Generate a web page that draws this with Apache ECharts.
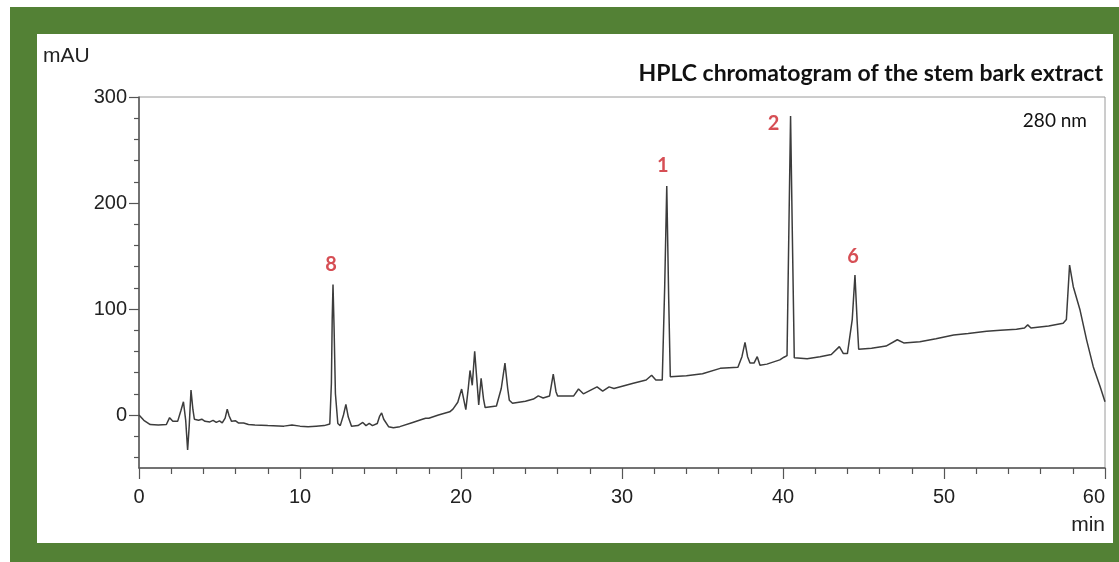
<!DOCTYPE html>
<html>
<head>
<meta charset="utf-8">
<script src="https://cdn.jsdelivr.net/npm/echarts@6/dist/echarts.min.js"></script>
<style>
  html, body { margin: 0; padding: 0; background: #ffffff; }
  #frame { position: absolute; left: 10px; top: 7px; width: 1109px; height: 555px; background: #538135; }
  #inner { position: absolute; left: 37px; top: 34px; width: 1076px; height: 509px; background: #ffffff; }
  #chart { position: absolute; left: 0; top: 0; width: 1119px; height: 562px; }
</style>
</head>
<body>
<div id="frame"></div>
<div id="inner"></div>
<div id="chart"></div>
<script>
// retention time (min) and absorbance (mAU)
const time = [
  0, 0.3, 0.7, 1.2, 1.7, 1.9, 2.1, 2.4, 2.6, 2.76, 2.9, 3.02, 3.12, 3.23, 3.35, 3.44,
  3.7, 3.9, 4.1, 4.2, 4.4, 4.6, 4.8, 5.0, 5.17, 5.35, 5.48, 5.6, 5.75, 6.0, 6.17, 6.5,
  6.8, 7.2, 8.0, 9.0, 9.5, 10.0, 10.5, 11.0, 11.5, 11.85, 11.95, 12.0, 12.05, 12.12, 12.2, 12.35,
  12.5, 12.7, 12.85, 13.0, 13.2, 13.6, 13.9, 14.1, 14.3, 14.5, 14.8, 14.95, 15.07, 15.2, 15.5, 15.8,
  16.2, 17.0, 17.6, 17.8, 18.0, 18.6, 19.3, 19.5, 19.8, 20.04, 20.3, 20.45, 20.56, 20.7, 20.85, 21.0,
  21.1, 21.25, 21.4, 21.5, 22.2, 22.5, 22.73, 22.9, 23.0, 23.2, 24.0, 24.5, 24.8, 25.1, 25.5, 25.73,
  25.9, 26.0, 27.0, 27.3, 27.6, 28.45, 28.8, 29.2, 29.5, 30.7, 31.5, 31.84, 32.1, 32.5, 32.65, 32.78,
  32.9, 33.0, 34.0, 35.0, 36.1, 37.2, 37.45, 37.64, 37.8, 37.95, 38.2, 38.4, 38.57, 39.0, 39.8, 40.06,
  40.25, 40.37, 40.47, 40.57, 40.7, 41.5, 42.3, 43.0, 43.5, 43.75, 44.0, 44.3, 44.47, 44.6, 44.7, 45.5,
  46.4, 47.1, 47.5, 48.5, 49.5, 50.6, 51.5, 52.65, 53.5, 54.5, 55.0, 55.2, 55.4, 56.5, 57.4, 57.6,
  57.8, 58.03, 58.45, 58.86, 59.27, 59.7, 60.0
]
const absorbance = [
  0, -5, -9, -9.5, -9, -2.5, -6, -6, 4, 12.5, -5, -33, -10, 23.5, 5, -4,
  -5, -4, -6, -4.5, -6.5, -5, -7, -5.5, -7.5, -3, 5.5, -1, -6, -5.5, -7.5, -7.5,
  -9, -9.5, -10, -10.5, -9.5, -10.5, -11, -10.5, -10, -8.5, 30, 90, 123, 80, 20, -8,
  -10, 0, 10, -2, -10.5, -10, -7, -10, -8, -10, -8, -1, 2, -4, -11, -12,
  -11, -7, -4, -3, -3, 0, 3, 5.5, 12, 24.5, 5, 25, 42, 28, 60, 30,
  9.5, 34.5, 15, 7, 8.5, 25, 49, 25, 14, 11, 13, 15, 18, 16, 18, 38.5,
  22, 18, 18, 24.5, 20, 26.5, 22.5, 26.5, 25, 30, 33, 37.5, 33, 33, 120, 216,
  110, 36, 37, 39, 44, 45, 55, 68.5, 55, 49, 49, 55, 47, 48, 52, 54.5,
  56, 180, 282, 180, 54, 53, 55, 57, 64.5, 58, 58, 90, 132, 90, 62, 63,
  65, 71, 68, 69, 72, 75.5, 77, 79, 80, 81, 82, 85, 82, 84, 86.5, 90,
  141.5, 121, 99, 70.7, 45.6, 26.7, 12.5
]

// labelled peaks
const peakNames = ['8', '1', '2', '6']
const peakTimes = [12.05, 32.78, 40.47, 44.47]
const peakValues = [123, 216, 282, 132]

const xTicks = [0, 10, 20, 30, 40, 50, 60]
const yTicks = [0, 100, 200, 300]
const yMinorTicks = [-40, -20, 20, 40, 60, 80, 120, 140, 160, 180, 220, 240, 260, 280]

// pixel offsets of the peak numbers from the apex
const labelOffset = {
  '8': [-2, -20],
  '1': [-4, -20],
  '2': [-17, 7],
  '6': [-2, -19]
}

const axisFont = "'Liberation Sans', Arial, sans-serif"
const noteFont = "Lato, 'Open Sans', sans-serif"

const chart = echarts.init(document.getElementById('chart'))

const trace = time.map((t, i) => [t, absorbance[i]])
const peaks = peakNames.map((name, i) => ({
  value: [peakTimes[i], peakValues[i]],
  label: { formatter: name, offset: labelOffset[name] }
}))

const option = {
  animation: false,
  grid: {
    left: 139,
    right: 14,
    top: 97,
    bottom: 94,
    show: true,
    borderColor: '#9a9a9a',
    borderWidth: 1,
    backgroundColor: 'transparent'
  },
  xAxis: {
    type: 'value',
    min: 0,
    max: 60,
    interval: 10,
    axisLine: { onZero: false, lineStyle: { color: '#555', width: 1.5 } },
    axisTick: { inside: false, length: 11, lineStyle: { color: '#555', width: 1.2 } },
    minorTick: { show: true, splitNumber: 5, length: 6, lineStyle: { color: '#555', width: 1.2 } },
    axisLabel: {
      margin: 19,
      fontSize: 20,
      fontFamily: axisFont,
      color: '#222',
      alignMaxLabel: 'right',
      customValues: xTicks
    },
    splitLine: { show: false }
  },
  yAxis: [
    {
      type: 'value',
      min: -50,
      max: 300,
      axisLine: { show: true, onZero: false, lineStyle: { color: '#555', width: 1.5 } },
      axisTick: { show: true, inside: false, length: 10, customValues: yTicks, lineStyle: { color: '#555', width: 1.2 } },
      axisLabel: { margin: 12, fontSize: 20, fontFamily: axisFont, color: '#222', customValues: yTicks },
      splitLine: { show: false }
    },
    {
      type: 'value',
      min: -50,
      max: 300,
      position: 'left',
      axisLine: { show: false, onZero: false },
      axisTick: { show: true, inside: false, length: 5, customValues: yMinorTicks, lineStyle: { color: '#555', width: 1.2 } },
      axisLabel: { show: false },
      splitLine: { show: false }
    }
  ],
  graphic: [
    {
      type: 'text',
      left: 43,
      top: 46,
      style: { text: 'mAU', fontSize: 21, fontFamily: axisFont, fill: '#222' }
    },
    {
      type: 'text',
      right: 14,
      top: 515,
      style: { text: 'min', fontSize: 21, fontFamily: axisFont, fill: '#222' }
    },
    {
      type: 'text',
      right: 16,
      top: 62,
      style: { text: 'HPLC chromatogram of the stem bark extract', fontSize: 23, fontWeight: 'bold', fontFamily: noteFont, fill: '#111' }
    },
    {
      type: 'text',
      right: 32,
      top: 111,
      style: { text: '280 nm', fontSize: 19, fontFamily: noteFont, fill: '#111' }
    }
  ],
  series: [
    {
      name: 'trace',
      type: 'line',
      data: trace,
      showSymbol: false,
      symbol: 'none',
      lineStyle: { color: '#3c3c3c', width: 1.5 },
      z: 3
    },
    {
      name: 'peaks',
      type: 'scatter',
      data: peaks,
      symbolSize: 1,
      itemStyle: { color: 'rgba(0,0,0,0)' },
      label: {
        show: true,
        position: 'inside',
        fontSize: 20,
        fontWeight: 'bold',
        fontFamily: noteFont,
        color: '#cc2229'
      },
      z: 4
    }
  ]
}

chart.setOption(option)
</script>
</body>
</html>
